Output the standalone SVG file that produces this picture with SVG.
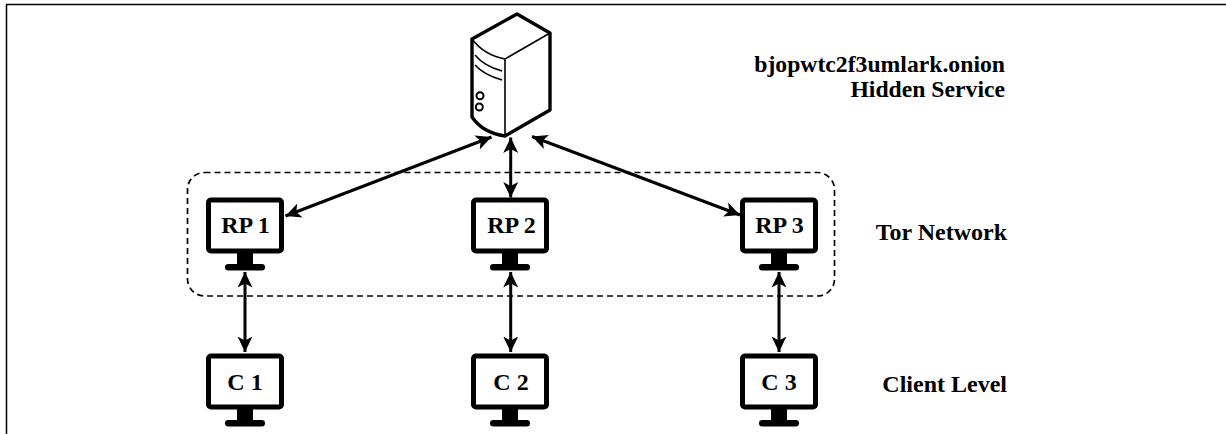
<svg xmlns="http://www.w3.org/2000/svg" width="1226" height="434" viewBox="0 0 1226 434">
<style>
text{font-family:"Liberation Serif","Times New Roman",serif;font-weight:bold;fill:#000;font-size:24px}
.lab{text-anchor:middle}
.side{text-anchor:end}
.top{font-size:23.700px}
.conn{fill:none;stroke:#000;stroke-width:3;marker-start:url(#ah);marker-end:url(#ah)}
</style>
<defs>
<marker id="ah" viewBox="0 0 16 16" refX="15.500" refY="8" markerUnits="userSpaceOnUse" markerWidth="16" markerHeight="16" orient="auto-start-reverse">
<path d="M0 0.500L15.500 8L0 15.500L4 8Z" fill="#000"/>
</marker>
<g id="mon">
<rect x="-36.500" y="-25.500" width="73" height="51" rx="2.500" fill="#fff" stroke="#000" stroke-width="5"/>
<path d="M-8 27H8V40H-8Z" fill="#000"/>
<rect x="-20" y="38.500" width="40" height="6.500" rx="3.250" fill="#000"/>
</g>
</defs>
<path id="frame" d="M6.500 434V4.500H1226" fill="none" stroke="#000" stroke-width="1.500"/>
<g id="tor-network"><rect x="187.500" y="172.500" width="647" height="123.500" rx="17" fill="none" stroke="#000" stroke-width="1.700" stroke-dasharray="6 4"/></g>
<g id="connectors">
<line class="conn" x1="285.500" y1="216" x2="491.500" y2="137"/>
<line class="conn" x1="510.700" y1="197.500" x2="510.700" y2="137.500"/>
<line class="conn" x1="740" y1="215" x2="532" y2="136.500"/>
<line class="conn" x1="245" y1="272" x2="245" y2="352"/>
<line class="conn" x1="510.700" y1="272" x2="510.700" y2="352"/>
<line class="conn" x1="779" y1="272" x2="779" y2="352"/>
</g>
<g id="server">
<path d="M472 39L517 14L550 33V110L505 136Q483 133 472 117Z" fill="#fff" stroke="#000" stroke-width="3.400" stroke-linejoin="round"/>
<path d="M472 39Q484 55 505 59L550 33M505 59V135" fill="none" stroke="#000" stroke-width="1.600"/>
<path d="M475 55Q484 66 502 71M475 65Q484 75 502 80" fill="none" stroke="#000" stroke-width="1.600"/>
<circle cx="480" cy="95.700" r="3.500" fill="#fff" stroke="#000" stroke-width="2"/>
<circle cx="479.300" cy="107" r="3.500" fill="#fff" stroke="#000" stroke-width="2"/>
</g>
<g id="rp1"><use href="#mon" transform="translate(245,225.500)"/><text class="lab" x="245.500" y="233">RP 1</text></g>
<g id="rp2"><use href="#mon" transform="translate(510,225.500)"/><text class="lab" x="511.500" y="233">RP 2</text></g>
<g id="rp3"><use href="#mon" transform="translate(779,225.500)"/><text class="lab" x="779.500" y="233">RP 3</text></g>
<g id="c1"><use href="#mon" transform="translate(245,381.500)"/><text class="lab" x="245" y="390">C 1</text></g>
<g id="c2"><use href="#mon" transform="translate(510,381.500)"/><text class="lab" x="511" y="390">C 2</text></g>
<g id="c3"><use href="#mon" transform="translate(779,381.500)"/><text class="lab" x="779" y="390">C 3</text></g>
<g id="labels">
<text class="side top" x="1005" y="72">bjopwtc2f3umlark.onion</text>
<text class="side top" x="1005" y="96.500">Hidden Service</text>
<text class="side" x="1007" y="239.500">Tor Network</text>
<text class="side" x="1007" y="391.500">Client Level</text>
</g>
</svg>
